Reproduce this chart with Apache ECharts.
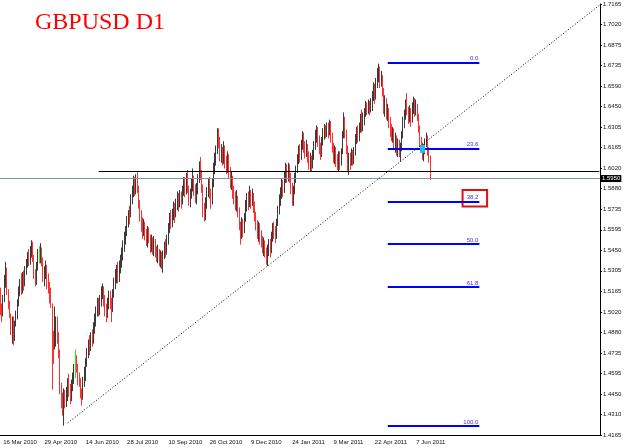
<!DOCTYPE html>
<html>
<head>
<meta charset="utf-8">
<title>GBPUSD D1</title>
<script src="https://cdn.jsdelivr.net/npm/echarts@6/dist/echarts.min.js"></script>
<style>
  html, body { margin: 0; padding: 0; background: #fff; }
  #grafico { width: 625px; height: 448px; }
</style>
</head>
<body>
<div id="grafico"></div>
<script>
// Daily bars, prices in 1/10000 (pips). Open of each bar = previous close.
var firstOpen = 15170;
var closes = [
	15060, 15000, 15110, 15220, 15300, 15160, 15080, 15010, 14890, 14960,
	14830, 14930, 15010, 15090, 15160, 15210, 15180, 15260, 15230, 15300,
	15360, 15400, 15380, 15440, 15480, 15400, 15300, 15230, 15330, 15420,
	15390, 15450, 15380, 15260, 15300, 15330, 15250, 15180, 15130, 15080,
	14800, 14780, 14880, 14950, 14860, 14750, 14480, 14400, 14380, 14450,
	14400, 14450, 14520, 14470, 14420, 14500, 14560, 14600, 14700, 14640,
	14550, 14530, 14470, 14430, 14530, 14560, 14660, 14730, 14790, 14770,
	14840, 14820, 14900, 14960, 15030, 15090, 15040, 15100, 15160, 15180,
	15110, 15050, 15010, 15080, 15130, 15090, 15040, 15150, 15230, 15280,
	15310, 15260, 15330, 15380, 15420, 15480, 15540, 15580, 15650, 15700,
	15690, 15800, 15860, 15940, 15870, 15940, 15870, 15780, 15700, 15640,
	15600, 15630, 15570, 15520, 15580, 15530, 15480, 15520, 15460, 15510,
	15440, 15400, 15450, 15380, 15420, 15360, 15420, 15480, 15440, 15520,
	15600, 15670, 15640, 15700, 15750, 15700, 15780, 15820, 15770, 15830,
	15790, 15860, 15920, 15870, 15930, 15880, 15800, 15850, 15900, 15950,
	15880, 15830, 15870, 15950, 16020, 15980, 15890, 15730, 15690, 15780,
	15850, 15900, 15860, 15780, 15910, 16010, 16070, 16140, 16260, 16220,
	16100, 16140, 16090, 16150, 16080, 16030, 16090, 16000, 15920, 15960,
	15860, 15830, 15770, 15820, 15730, 15620, 15570, 15640, 15590, 15680,
	15750, 15810, 15770, 15840, 15780, 15840, 15760, 15690, 15630, 15580,
	15620, 15550, 15520, 15470, 15500, 15440, 15400, 15460, 15500, 15440,
	15550, 15600, 15580, 15560, 15640, 15720, 15800, 15850, 15900, 15870,
	15960, 16010, 15970, 16020, 15960, 15890, 15820, 15870, 15950, 16010,
	16080, 16140, 16100, 16180, 16240, 16190, 16130, 16170, 16100, 16050,
	16090, 16040, 16110, 16170, 16240, 16290, 16220, 16160, 16120, 16200,
	16260, 16290, 16250, 16310, 16270, 16330, 16240, 16170, 16110, 16150,
	16080, 16050, 16100, 16060, 16130, 16240, 16360, 16290, 16170, 16050,
	16100, 16060, 16120, 16080, 16130, 16220, 16270, 16240, 16300, 16350,
	16300, 16370, 16400, 16450, 16420, 16470, 16430, 16480, 16530, 16580,
	16520, 16620, 16680, 16700, 16620, 16650, 16560, 16450, 16490, 16400,
	16430, 16340, 16300, 16250, 16280, 16190, 16230, 16160, 16200, 16130,
	16180, 16250, 16340, 16390, 16460, 16420, 16370, 16420, 16350, 16440,
	16480, 16420, 16460, 16380, 16310, 16220, 16180, 16120, 16150, 16200,
	16240, 16160, 16100, 15950
];
var highs = [
	15190, 15080, 15140, 15280, 15370, 15330, 15180, 15100, 15010, 14990,
	14990, 14960, 15030, 15110, 15200, 15250, 15290, 15300, 15310, 15340,
	15390, 15440, 15460, 15480, 15520, 15510, 15420, 15320, 15370, 15460,
	15480, 15500, 15470, 15400, 15340, 15380, 15350, 15290, 15230, 15190,
	15080, 14890, 15060, 14990, 14990, 14880, 14760, 14530, 14460, 14490,
	14480, 14500, 14560, 14590, 14520, 14550, 14600, 14660, 14760, 14720,
	14660, 14600, 14560, 14490, 14570, 14640, 14700, 14770, 14830, 14860,
	14880, 14900, 14950, 15010, 15060, 15120, 15120, 15140, 15200, 15220,
	15200, 15140, 15080, 15120, 15170, 15170, 15120, 15180, 15260, 15320,
	15350, 15370, 15380, 15420, 15470, 15520, 15580, 15620, 15690, 15730,
	15760, 15840, 15900, 15970, 15960, 15980, 15995, 15900, 15800, 15730,
	15680, 15670, 15650, 15600, 15620, 15610, 15560, 15560, 15540, 15550,
	15530, 15480, 15490, 15460, 15450, 15440, 15450, 15510, 15530, 15560,
	15640, 15710, 15730, 15740, 15790, 15780, 15810, 15860, 15850, 15870,
	15860, 15900, 15960, 15960, 15990, 16010, 15900, 15880, 15950, 16020,
	15970, 15910, 15920, 15980, 16070, 16100, 16010, 15910, 15780, 15820,
	15890, 15950, 15960, 15880, 15950, 16060, 16130, 16180, 16300, 16300,
	16240, 16190, 16170, 16210, 16180, 16110, 16140, 16120, 16030, 16000,
	15970, 15900, 15860, 15870, 15830, 15750, 15650, 15680, 15670, 15710,
	15800, 15850, 15860, 15900, 15870, 15880, 15850, 15790, 15720, 15660,
	15650, 15640, 15590, 15550, 15540, 15520, 15470, 15490, 15530, 15530,
	15580, 15640, 15650, 15620, 15670, 15760, 15840, 15890, 15950, 15940,
	16000, 16060, 16050, 16060, 16050, 15990, 15920, 15900, 15990, 16040,
	16120, 16180, 16190, 16220, 16280, 16270, 16210, 16220, 16190, 16140,
	16130, 16110, 16150, 16210, 16290, 16320, 16310, 16250, 16200, 16240,
	16300, 16330, 16320, 16340, 16340, 16360, 16350, 16270, 16200, 16180,
	16170, 16120, 16140, 16140, 16160, 16280, 16410, 16380, 16290, 16180,
	16130, 16130, 16160, 16150, 16170, 16260, 16310, 16320, 16340, 16400,
	16430, 16410, 16440, 16490, 16480, 16500, 16490, 16510, 16560, 16620,
	16610, 16650, 16720, 16750, 16730, 16700, 16670, 16580, 16530, 16510,
	16470, 16440, 16380, 16330, 16310, 16300, 16270, 16250, 16230, 16220,
	16200, 16280, 16380, 16430, 16500, 16546, 16450, 16460, 16440, 16480,
	16520, 16510, 16500, 16470, 16400, 16320, 16240, 16200, 16190, 16230,
	16270, 16250, 16170, 16110
];
var lows = [
	15000, 14950, 14990, 15090, 15190, 15140, 15040, 14980, 14860, 14800,
	14790, 14820, 14920, 14970, 15060, 15130, 15140, 15150, 15170, 15200,
	15280, 15330, 15340, 15350, 15400, 15370, 15250, 15200, 15210, 15310,
	15360, 15360, 15340, 15230, 15200, 15250, 15180, 15150, 15080, 15050,
	14480, 14660, 14760, 14780, 14800, 14700, 14450, 14350, 14300, 14230,
	14350, 14360, 14400, 14430, 14380, 14400, 14470, 14520, 14560, 14600,
	14510, 14500, 14420, 14370, 14410, 14500, 14540, 14640, 14700, 14720,
	14750, 14780, 14800, 14870, 14920, 14990, 14990, 15000, 15060, 15110,
	15060, 14990, 14950, 14980, 15040, 15040, 14950, 15020, 15120, 15180,
	15220, 15220, 15230, 15290, 15330, 15380, 15440, 15490, 15550, 15610,
	15630, 15680, 15770, 15820, 15830, 15840, 15850, 15740, 15650, 15580,
	15530, 15550, 15520, 15480, 15470, 15500, 15430, 15440, 15420, 15410,
	15400, 15370, 15360, 15340, 15330, 15320, 15295, 15390, 15400, 15420,
	15490, 15570, 15600, 15610, 15660, 15640, 15680, 15730, 15720, 15750,
	15740, 15770, 15830, 15820, 15840, 15850, 15760, 15750, 15810, 15860,
	15830, 15780, 15770, 15840, 15920, 15940, 15850, 15680, 15650, 15660,
	15740, 15820, 15810, 15740, 15770, 15890, 15980, 16040, 16120, 16160,
	16070, 16060, 16040, 16050, 16020, 15980, 15990, 15950, 15880, 15870,
	15810, 15770, 15730, 15720, 15680, 15590, 15490, 15530, 15540, 15570,
	15650, 15720, 15730, 15750, 15740, 15760, 15710, 15650, 15590, 15530,
	15510, 15490, 15470, 15430, 15410, 15400, 15350, 15340, 15410, 15400,
	15430, 15510, 15530, 15500, 15530, 15620, 15700, 15760, 15810, 15820,
	15850, 15920, 15920, 15930, 15920, 15840, 15760, 15760, 15840, 15920,
	15990, 16050, 16060, 16080, 16150, 16130, 16090, 16100, 16060, 16010,
	16000, 16000, 16020, 16080, 16150, 16200, 16170, 16120, 16080, 16100,
	16180, 16220, 16230, 16240, 16230, 16250, 16200, 16130, 16060, 16050,
	16030, 16010, 16000, 16010, 16040, 16120, 16230, 16230, 16120, 16000,
	15975, 16010, 16040, 16040, 16050, 16110, 16190, 16200, 16210, 16270,
	16270, 16280, 16320, 16380, 16390, 16400, 16390, 16410, 16420, 16490,
	16470, 16500, 16580, 16620, 16580, 16590, 16520, 16400, 16380, 16360,
	16350, 16300, 16240, 16210, 16200, 16150, 16130, 16110, 16100, 16100,
	16070, 16140, 16230, 16300, 16360, 16390, 16330, 16340, 16310, 16340,
	16400, 16380, 16390, 16350, 16270, 16170, 16140, 16080, 16070, 16120,
	16170, 16110, 16060, 15940
];
var greenBars = [30, 58];

// Axis texts
var priceLabels = ['1.4165', '1.4310', '1.4450', '1.4595', '1.4735', '1.4880', '1.5020', '1.5165',
	'1.5305', '1.5450', '1.5595', '1.5735', '1.5880', '1.6020', '1.6165', '1.6305', '1.6450',
	'1.6590', '1.6735', '1.6875', '1.7020', '1.7165'];
var dateLabels = ['16 Mar 2010', '29 Apr 2010', '14 Jun 2010', '28 Jul 2010', '10 Sep 2010',
	'26 Oct 2010', '9 Dec 2010', '24 Jan 2011', '9 Mar 2011', '22 Apr 2011', '7 Jun 2011'];
var firstDateBar = 2;
var dateStep = 32;
var totalSlots = 465;

// Drawn objects
var fibHigh = 1.6758;
var fibLow = 1.4228;
var fibLevels = [0, 23.6, 38.2, 50, 61.8, 100];
var fibFromBar = 300, fibToBar = 371;
var resistance = 1.6000;
var trendFrom = [52, 1.4249];
var trendTo = [464, 1.7156];


var slots = [];
for (var s = 0; s < totalSlots; s++) slots.push(String(s));

function dateAt(i) {
	var k = (i - firstDateBar) / dateStep;
	if (k >= 0 && k % 1 === 0 && k < dateLabels.length) return dateLabels[k];
	return null;
}

var velas = closes.map(function (c, i) {
	var o = i === 0 ? firstOpen : closes[i - 1];
	var v = [o / 1e4, c / 1e4, lows[i] / 1e4, highs[i] / 1e4];
	if (greenBars.indexOf(i) >= 0) {
		return { value: v, itemStyle: { color: '#22ee22', color0: '#22ee22', borderColor: '#22ee22', borderColor0: '#22ee22' } };
	}
	return v;
});
var lastPrice = closes[closes.length - 1] / 1e4;

var textoEje = { fontFamily: 'Liberation Sans, Arial, sans-serif', fontSize: 6, color: '#111' };

// Fibonacci lines
var fibLines = fibLevels.map(function (lv) {
	var p = fibHigh - (fibHigh - fibLow) * lv / 100;
	return [{
		coord: [fibFromBar, p],
		lineStyle: { color: '#0000ff', width: 2, type: 'solid' },
		label: {
			show: true, position: 'insideEndTop', distance: 1,
			formatter: lv.toFixed(1), color: '#3333ff',
			fontFamily: 'Liberation Sans, Arial, sans-serif', fontSize: 6
		}
	}, { coord: [fibToBar, p] }];
});

var grafico = echarts.init(document.getElementById('grafico'));

var option = {
	animation: false,
	backgroundColor: '#fff',
	title: {
		text: 'GBPUSD D1',
		left: 30,
		top: 6,
		textStyle: { color: '#ff0000', fontFamily: 'Liberation Serif, Times New Roman, serif', fontSize: 24, fontWeight: 'normal' }
	},
	grid: { left: 0, right: 25, top: 4, bottom: 13 },
	xAxis: {
		type: 'category',
		data: slots,
		boundaryGap: true,
		axisLine: { lineStyle: { color: '#000', width: 1 } },
		axisTick: {
			alignWithLabel: true, length: 3,
			interval: function (i) { return dateAt(i) !== null; },
			lineStyle: { color: '#000' }
		},
		axisLabel: Object.assign({
			interval: function (i) { return dateAt(i) !== null; },
			formatter: function (v, i) { return dateAt(i) || ''; },
			align: 'left',
			margin: 4
		}, textoEje),
		splitLine: { show: false }
	},
	yAxis: [{
		type: 'value',
		position: 'right',
		min: 1.4165,
		max: 1.7165,
		axisLine: { show: true, lineStyle: { color: '#000', width: 1 } },
		axisTick: { show: false },
		axisLabel: { show: false },
		splitLine: { show: false }
	}, {
		type: 'category',
		position: 'right',
		data: priceLabels,
		boundaryGap: false,
		axisLine: { show: false },
		axisTick: { show: true, length: 2, interval: 0, lineStyle: { color: '#000' } },
		axisLabel: Object.assign({ interval: 0, margin: 3 }, textoEje),
		splitLine: { show: false }
	}],
	series: [{
		name: 'GBPUSD',
		type: 'candlestick',
		xAxisIndex: 0,
		yAxisIndex: 0,
		data: velas,
		barWidth: 1,
		itemStyle: {
			color: '#3a3a3a',
			color0: '#ff3030',
			borderColor: '#3a3a3a',
			borderColor0: '#ff3030',
			borderWidth: 1
		},
		markLine: {
			silent: true,
			animation: false,
			precision: 4,
			symbol: ['none', 'none'],
			data: [
				// bid line
				{
					yAxis: lastPrice,
					lineStyle: { color: '#8494a4', width: 1, type: 'solid' },
					label: {
						show: true, position: 'end', distance: 1,
						formatter: lastPrice.toFixed(4),
						backgroundColor: '#000', color: '#fff', padding: [1, 1, 0, 1],
						fontFamily: 'Liberation Sans, Arial, sans-serif', fontSize: 6
					}
				},
				[{ coord: [76, resistance], lineStyle: { color: '#000', width: 1, type: 'solid' }, label: { show: false } },
					{ coord: [464, resistance] }],
				[{ coord: trendFrom, lineStyle: { color: '#000', width: 1, type: [1, 2] }, label: { show: false } },
					{ coord: trendTo }]
			].concat(fibLines)
		},
		markArea: {
			silent: true,
			data: [[
				{ coord: [358, 1.5870], itemStyle: { color: 'rgba(0,0,0,0)', borderColor: '#e01010', borderWidth: 2 } },
				{ coord: [377, 1.5755] }
			]]
		},
		markPoint: {
			silent: true,
			symbol: 'rect',
			symbolSize: [5, 8],
			label: { show: false },
			itemStyle: { color: '#22bbee' },
			data: [{ coord: [327, 1.6156] }]
		}
	}]
};

grafico.setOption(option);
</script>
</body>
</html>
